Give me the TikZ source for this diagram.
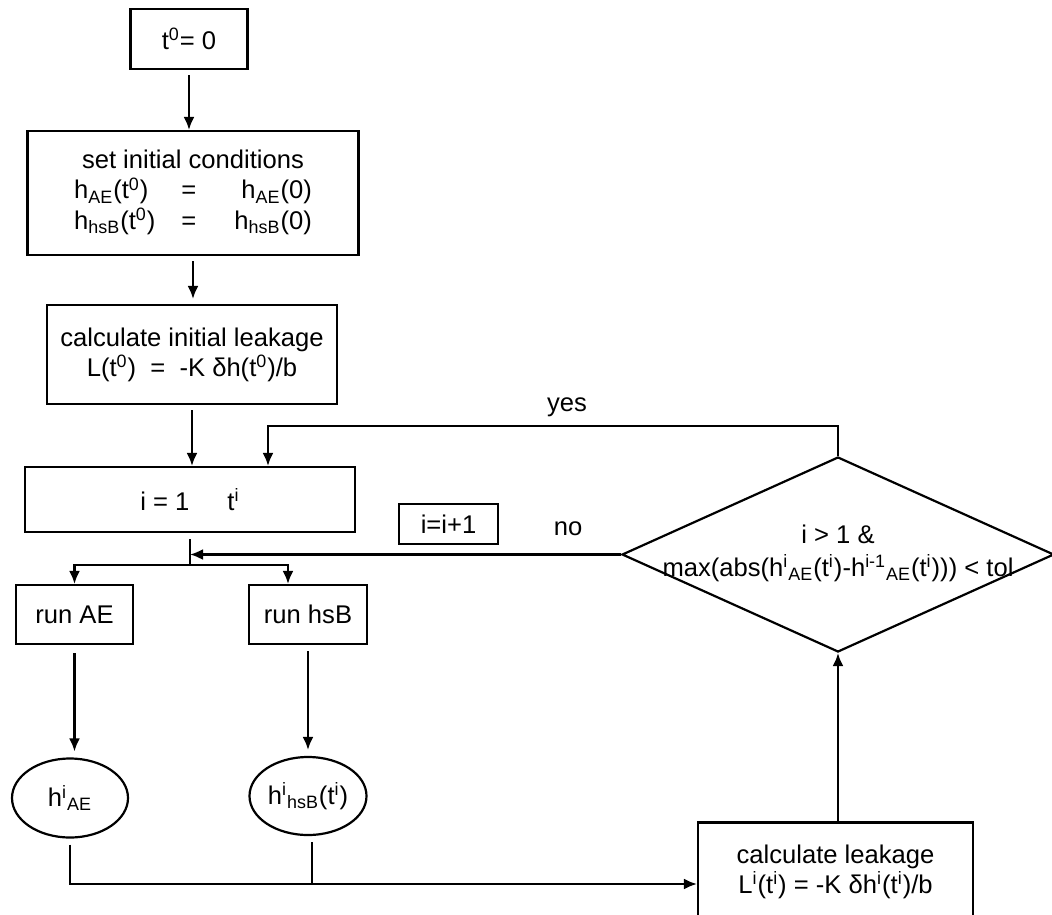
\documentclass[tikz,border=0pt]{standalone}
\usepackage{fontspec}
\setmainfont{Liberation Sans}
\usetikzlibrary{positioning,shapes,arrows.meta}
\tikzset{
  basic/.style    = {draw, font=\fontsize{12.8}{15}\selectfont,
                     inner sep=0pt, align=center},
  action/.style   = {basic, rectangle},
  result/.style   = {basic, ellipse},
  decision/.style = {basic, diamond},
  tag/.style      = {font=\fontsize{12.8}{15}\selectfont, inner sep=0pt, align=center}
}

\begin{document}
\begin{tikzpicture}[
  x=0.5pt, y=-0.5pt,
  line width=1.1pt,
  >={Latex[length=6.5pt,width=5.5pt]}]
\clip (0,0) rectangle (1052,914);

% start and initial conditions
\node[action, minimum width=58.5pt, minimum height=30pt] (t0) at (189,39)
  {t\textsuperscript{0}= 0};
\node[action, minimum width=165.5pt, minimum height=62pt] (set) at (193,193)
  {\begin{tabular}{@{}l@{\hspace{13pt}}c@{\hspace{19pt}}r@{}}
   \multicolumn{3}{@{}c@{}}{set initial conditions}\\
   h\textsubscript{AE}(t\textsuperscript{0}) & = & h\textsubscript{AE}(0)\\
   h\textsubscript{hsB}(t\textsuperscript{0}) & = & h\textsubscript{hsB}(0)
   \end{tabular}};
\node[action, minimum width=145pt, minimum height=49.5pt] (calc0) at (192,354.5)
  {calculate initial leakage\\
   L(t\textsuperscript{0})~~=~~-K δh(t\textsuperscript{0})/b};

% the iteration
\node[action, minimum width=165pt, minimum height=32.5pt] (loop) at (190,499.5)
  {i = 1\hspace{19pt}t\textsuperscript{i}};
\coordinate (split) at (190,565);
\node[action, minimum width=58.5pt, minimum height=29.5pt] (runAE) at (74.5,614.5) {run AE};
\node[action, minimum width=59pt, minimum height=29.5pt] (runhsB) at (308,614.5) {run hsB};
\node[result, minimum width=58pt, minimum height=39.5pt] (hAE) at (70,798)
  {h\textsuperscript{i}\textsubscript{AE}};
\node[result, minimum width=58.5pt, minimum height=39pt] (hhsB) at (308,796)
  {h\textsuperscript{i}\textsubscript{hsB}(t\textsuperscript{i})};
\coordinate (merge) at (312,884);
\node[action, minimum width=137.5pt, minimum height=49.5pt] (calc) at (835.5,872)
  {calculate leakage\\
   L\textsuperscript{i}(t\textsuperscript{i}) = -K δh\textsuperscript{i}(t\textsuperscript{i})/b};

% convergence test
\node[decision, minimum width=216pt, minimum height=97.5pt] (cond) at (838,554.5) {};
\node[tag] (condtxt) at (838,553)
  {i > 1 \&\\[1.5pt]
   max(abs(h\textsuperscript{i}\textsubscript{AE}(t\textsuperscript{i})-h\textsuperscript{i-1}\textsubscript{AE}(t\textsuperscript{i}))) < tol};
\node[action, minimum width=49.5pt, minimum height=20pt] (inc) at (448.5,524) {i=i+1};
\node[tag] (lblno) at (568,529) {no};
\node[tag] (lblyes) at (567,407) {yes};

% connectors
\draw[->, shorten <=2.5pt] (t0.south) -- (t0.south |- set.north);
\draw[->, shorten <=2.5pt, shorten >=2.5pt] (set.south) -- (set.south |- calc0.north);
\draw[->, shorten <=2.5pt] (calc0.south) -- (calc0.south |- loop.north);
\draw[->] (cond.north) -- ++(0,-30) -| ([xshift=39pt]loop.north);
\draw[shorten <=3pt] (loop.south) -- (split);
\draw[->] (split) -| (runAE.north);
\draw[->] (split) -| ([xshift=-10pt]runhsB.north);
\draw[->] (cond.west) -- (cond.west -| split);
\draw[->, shorten <=4pt, shorten >=3pt] (runAE.south) -- (runAE.south |- hAE.north);
\draw[->, shorten <=3pt, shorten >=3pt] (runhsB.south) -- (runhsB.south |- hhsB.north);
\draw[shorten <=3pt] (hAE.south) |- (merge);
\draw[->, shorten <=3pt] (hhsB.south -| merge) -- (merge) -- (merge -| calc.west);
\draw[->] (cond.south |- calc.north) -- (cond.south);
\end{tikzpicture}
\end{document}
